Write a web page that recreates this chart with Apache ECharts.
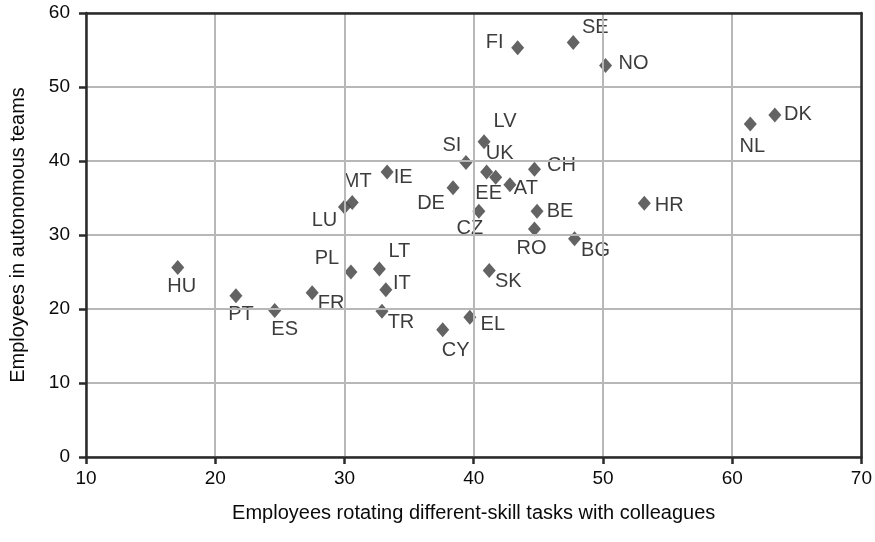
<!DOCTYPE html>
<html>
<head>
<meta charset="utf-8">
<script src="https://cdn.jsdelivr.net/npm/echarts@6/dist/echarts.min.js"></script>
<style>
html,body{margin:0;padding:0;background:#fff;}
#chart{width:875px;height:542px;}
</style>
</head>
<body>
<div id="chart"></div>
<script>
// Country codes
const countries = ['HU','PT','ES','FR','PL','LT','IT','TR','CY','EL','SK','MT','LU','IE','DE','CZ','RO','BE','BG','AT','EE','UK','CH','SI','LV','FI','SE','NO','DK','NL','HR'];
// Employees rotating different-skill tasks with colleagues (x)
const rotating = [17.1,21.6,24.6,27.5,30.5,32.7,33.2,32.9,37.6,39.7,41.2,30.6,30.0,33.3,38.4,40.4,44.7,44.9,47.8,42.8,41.7,41.0,44.7,39.4,40.8,43.4,47.7,50.2,63.3,61.4,53.2];
// Employees in autonomous teams (y)
const autonomous = [25.6,21.8,19.8,22.2,25.0,25.4,22.6,19.7,17.2,18.9,25.2,34.4,33.8,38.5,36.4,33.2,30.8,33.2,29.5,36.8,37.8,38.5,38.9,39.8,42.6,55.3,56.0,52.9,46.2,45.0,34.3];
// Tick values
const xTicks = [10,20,30,40,50,60,70];
const yTicks = [0,10,20,30,40,50,60];

// label offsets (style only), pixels from point centre
const labelOffset = {
  HU:[4,19], PT:[5,19], ES:[10,19], FR:[19,11], PL:[-24,-14], LT:[20,-18], IT:[16,-6], TR:[19,11],
  CY:[13,21], EL:[23,7], SK:[19,11], MT:[5,-21], LU:[-20,14], IE:[16,5], DE:[-22,16], CZ:[-9,17],
  RO:[-3,19], BE:[23,0], BG:[21,12], AT:[16,4], EE:[-7,16], UK:[13,-19], CH:[27,-4], SI:[-14,-17],
  LV:[21,-20], FI:[-23,-5], SE:[22,-15], NO:[28,-2], DK:[23,-1], NL:[2,22], HR:[25,2]
};

const seriesData = countries.map((c, i) => ({
  name: c,
  value: [rotating[i], autonomous[i]],
  label: { offset: labelOffset[c] }
}));

const FONT = '"Liberation Sans", Arial, Helvetica, sans-serif';
const TXT = '#0a0a0a';
const AX = '#2a2a2a';
const chart = echarts.init(document.getElementById('chart'), null, {renderer: 'canvas'});
chart.setOption({
  animation: false,
  backgroundColor: '#fff',
  grid: { left: 84, right: 12, top: 13, bottom: 85 },
  xAxis: [{
    type: 'value', min: xTicks[0], max: xTicks[xTicks.length-1], interval: 10,
    name: 'Employees rotating different-skill tasks with colleagues',
    nameLocation: 'middle', nameGap: 46,
    nameTextStyle: { fontFamily: FONT, fontSize: 20, color: TXT },
    axisLine: { show: true, lineStyle: { color: AX, width: 2.5 } },
    axisTick: { show: true, length: 7, lineStyle: { color: AX, width: 2.5 } },
    axisLabel: { fontFamily: FONT, fontSize: 19, color: TXT, margin: 12 },
    splitLine: { show: true, lineStyle: { color: '#b8b8b8', width: 2 } },
    z: 3
  }, {
    type: 'value', position: 'top', min: xTicks[0], max: xTicks[xTicks.length-1], interval: 10,
    axisLine: { show: true, onZero: false, lineStyle: { color: AX, width: 2.5 } },
    axisTick: { show: false }, axisLabel: { show: false }, splitLine: { show: false }, z: 3
  }],
  yAxis: [{
    type: 'value', min: yTicks[0], max: yTicks[yTicks.length-1], interval: 10,
    name: 'Employees in autonomous teams',
    nameLocation: 'middle', nameGap: 58,
    nameTextStyle: { fontFamily: FONT, fontSize: 20, color: TXT },
    axisLine: { show: true, lineStyle: { color: AX, width: 2.5 } },
    axisTick: { show: true, length: 7, lineStyle: { color: AX, width: 2.5 } },
    axisLabel: { fontFamily: FONT, fontSize: 19, color: TXT, margin: 16 },
    splitLine: { show: true, lineStyle: { color: '#b8b8b8', width: 2 } },
    z: 3
  }, {
    type: 'value', position: 'right', min: yTicks[0], max: yTicks[yTicks.length-1], interval: 10,
    axisLine: { show: true, onZero: false, lineStyle: { color: AX, width: 2.5 } },
    axisTick: { show: false }, axisLabel: { show: false }, splitLine: { show: false }, z: 3
  }],
  series: [{
    type: 'scatter',
    symbol: 'diamond',
    symbolSize: [13, 15],
    itemStyle: { color: '#3c3c3c' },
    label: {
      show: true, position: 'inside', formatter: '{b}',
      fontFamily: FONT, fontSize: 20, color: TXT
    },
    data: seriesData
  }]
});
</script>
</body>
</html>
